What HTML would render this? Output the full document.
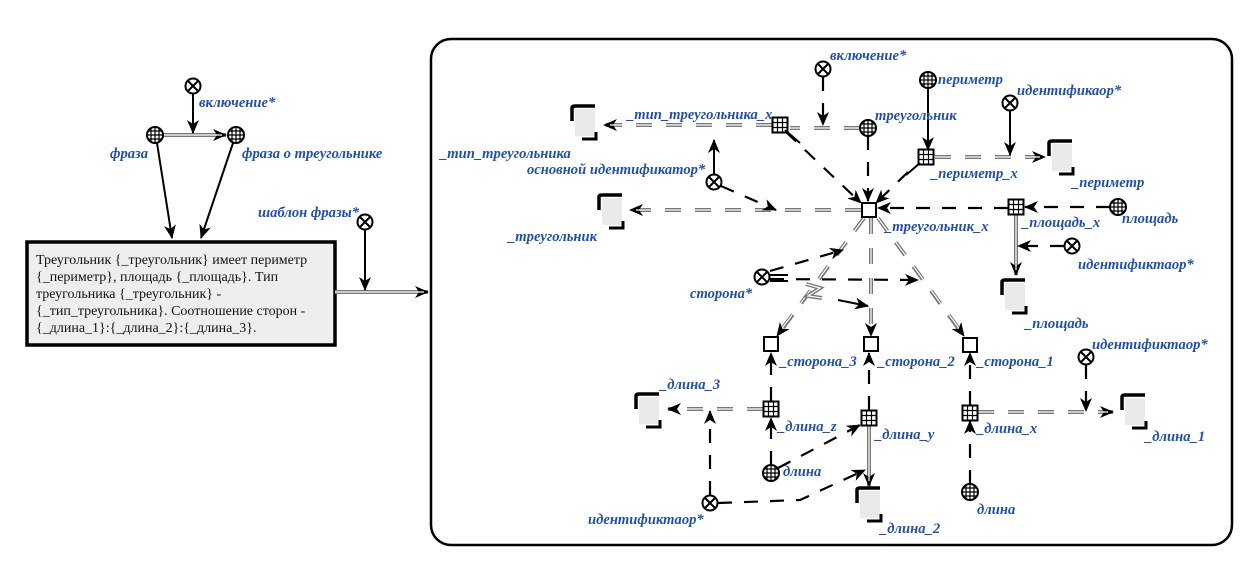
<!DOCTYPE html>
<html><head><meta charset="utf-8"><style>
html,body{margin:0;padding:0;background:#fff;width:1243px;height:567px;overflow:hidden}
svg{display:block}
.lb{font-family:"Liberation Serif",serif;font-style:italic;font-weight:bold;font-size:14.6px;fill:#1f4fb0}
.d{fill:none;stroke:#000;stroke-width:2.2;stroke-dasharray:14 12}
.s{fill:none;stroke:#000;stroke-width:2}
.g1{fill:none;stroke:#777;stroke-width:4;stroke-dasharray:16 14}
.g2{fill:none;stroke:#fff;stroke-width:1.2;stroke-dasharray:16 14}
.G1{fill:none;stroke:#777;stroke-width:4}
.G2{fill:none;stroke:#fff;stroke-width:1.2}
</style></head><body>
<svg width="1243" height="567" viewBox="0 0 1243 567" xmlns="http://www.w3.org/2000/svg">
<defs>
<marker id="a" markerWidth="14" markerHeight="12" refX="13" refY="6" orient="auto" markerUnits="userSpaceOnUse"><path d="M0,0 L14,6 L0,12 L4,6 z" fill="#000"/></marker>
<g id="x"><circle r="7.5" fill="#fff" stroke="#000" stroke-width="2"/><path d="M-5,-5 L5,5 M5,-5 L-5,5" stroke="#000" stroke-width="2"/></g>
<g id="c"><circle r="8" fill="#fff" stroke="#000" stroke-width="2"/><path d="M-8,0 H8 M0,-8 V8 M-7,-4 H7 M-7,4 H7 M-4,-7 V7 M4,-7 V7" stroke="#000" stroke-width="1.2"/></g>
<g id="q"><rect x="-7.5" y="-7.5" width="15" height="15" fill="#fff" stroke="#000" stroke-width="2"/><path d="M-7,-2.5 H7 M-7,2.5 H7 M-2.5,-7 V7 M2.5,-7 V7" stroke="#000" stroke-width="1.2"/></g>
<g id="e"><rect x="-7" y="-7" width="14" height="14" fill="#fff" stroke="#000" stroke-width="2"/></g>
<g id="l"><rect x="5" y="5" width="20" height="27" fill="#eaeaea"/><path d="M2,17 L2,4 Q2,2 5,2 L25,2" fill="none" stroke="#000" stroke-width="3.5"/><path d="M12,35 L26,35 L26,28" fill="none" stroke="#000" stroke-width="3"/></g>
</defs>

<rect x="27" y="242" width="308" height="103" fill="#eeeeee" stroke="#000" stroke-width="3.5"/>
<text font-family="Liberation Serif,serif" font-size="14" fill="#111">
<tspan x="36" y="264">Треугольник {_треугольник} имеет периметр</tspan>
<tspan x="36" y="281">{_периметр}, площадь {_площадь}. Тип</tspan>
<tspan x="36" y="298">треугольника {_треугольник} -</tspan>
<tspan x="36" y="315">{_тип_треугольника}. Соотношение сторон -</tspan>
<tspan x="36" y="332">{_длина_1}:{_длина_2}:{_длина_3}.</tspan>
</text>
<path d="M163,135 H226" class="G1" marker-end="url(#a)"/><path d="M163,135 H222" class="G2"/>
<path d="M193,94 V133" class="s" marker-end="url(#a)"/>
<path d="M157,143 L172,238" class="s" marker-end="url(#a)"/>
<path d="M233,143 L201,238" class="s" marker-end="url(#a)"/>
<path d="M335,292 H428" class="G1" marker-end="url(#a)"/><path d="M335,292 H424" class="G2"/>
<path d="M365,230 V290" class="s" marker-end="url(#a)"/>
<use href="#x" x="193" y="86"/><use href="#c" x="155" y="135"/><use href="#c" x="236" y="135"/><use href="#x" x="365" y="222"/>
<text class="lb" x="199" y="107">включение*</text>
<text class="lb" x="110" y="158">фраза</text>
<text class="lb" x="242" y="158">фраза о треугольнике</text>
<text class="lb" x="258" y="217">шаблон фразы*</text>

<rect x="431" y="39" width="801" height="506" rx="20" fill="none" stroke="#000" stroke-width="2.5"/>

<g>
<path d="M860,128 H790" class="g1"/><path d="M860,128 H790" class="g2"/>
<path d="M772,125 H604" class="g1" marker-end="url(#a)"/><path d="M772,125 H610" class="g2"/>
<path d="M861,210 H630" class="g1" marker-end="url(#a)"/><path d="M861,210 H636" class="g2"/>
<path d="M935,157 H1045" class="g1" marker-end="url(#a)"/><path d="M935,157 H1040" class="g2"/>
<path d="M1016,215 V275" class="G1" marker-end="url(#a)"/><path d="M1016,215 V270" class="G2"/>
<path d="M864,218 L777,336" class="g1" marker-end="url(#a)"/><path d="M864,218 L780,331" class="g2"/>
<path d="M871,218 V336" class="g1" marker-end="url(#a)"/><path d="M871,218 V331" class="g2"/>
<path d="M878,218 L964,336" class="g1" marker-end="url(#a)"/><path d="M878,218 L961,331" class="g2"/>
<path d="M763,409 H668" class="g1" marker-end="url(#a)"/><path d="M763,409 H673" class="g2"/>
<path d="M869,426 V486" class="G1" marker-end="url(#a)"/><path d="M869,426 V481" class="G2"/>
<path d="M978,412 H1113" class="g1" marker-end="url(#a)"/><path d="M978,412 H1108" class="g2"/>
<path d="M770,275 L788,275 M770,281 L788,281" class="s" stroke-width="1.5"/>
<path d="M806,284 L820,288 L808,296 L822,298" class="G1"/><path d="M806,284 L820,288 L808,296 L822,298" class="G2"/>
</g>

<path d="M823,77 V125" class="d" marker-end="url(#a)"/>
<path d="M786,132 L861,203" class="d" marker-end="url(#a)"/>
<path d="M868,136 V201" class="d" marker-end="url(#a)"/>
<path d="M714,174 V140" class="s" marker-end="url(#a)"/>
<path d="M721,186 L776,210" class="d" marker-end="url(#a)"/>
<path d="M928,88 V150" class="s" marker-end="url(#a)"/>
<path d="M1010,110 V155" class="s" marker-end="url(#a)"/>
<path d="M908,172 L876,203" class="d" marker-end="url(#a)"/>
<path d="M1110,207 H1025" class="d" marker-end="url(#a)"/>
<path d="M1008,208 H878" class="d" marker-end="url(#a)"/>
<path d="M1064,246 H1018" class="d" marker-end="url(#a)"/>
<path d="M770,271 L843,250" class="d" marker-end="url(#a)"/>
<path d="M770,279 L918,280" class="d" marker-end="url(#a)"/>
<path d="M838,300 L868,306" class="s" marker-end="url(#a)"/>
<path d="M771,401 V353" class="d" marker-end="url(#a)"/>
<path d="M771,465 V418" class="d" marker-end="url(#a)"/>
<path d="M869,410 V353" class="d" marker-end="url(#a)"/>
<path d="M778,468 L860,425" class="d" marker-end="url(#a)"/>
<path d="M970,405 V353" class="d" marker-end="url(#a)"/>
<path d="M970,484 V421" class="d" marker-end="url(#a)"/>
<path d="M710,495 V411" class="d" marker-end="url(#a)"/>
<path d="M718,503 L800,500 L865,470" class="d" marker-end="url(#a)"/>
<path d="M1086,365 V411" class="d" marker-end="url(#a)"/>

<use href="#x" x="823" y="69"/>
<use href="#q" x="780" y="125"/><path d="M785,130 L800,143" class="s"/>
<use href="#c" x="868" y="128"/>
<use href="#l" x="570" y="104"/>
<use href="#x" x="714" y="182"/>
<use href="#l" x="597" y="193"/>
<use href="#e" x="869" y="210"/>
<use href="#c" x="928" y="80"/>
<use href="#q" x="926" y="157"/><path d="M920,163 L906,175" class="s"/>
<use href="#l" x="1047" y="139"/>
<use href="#x" x="1010" y="103"/>
<use href="#q" x="1016" y="207"/>
<use href="#c" x="1118" y="207"/>
<use href="#x" x="1072" y="246"/>
<use href="#l" x="1000" y="278"/>
<use href="#x" x="762" y="277"/>
<use href="#e" x="771" y="344"/>
<use href="#e" x="871" y="344"/>
<use href="#e" x="970" y="345"/>
<use href="#q" x="771" y="409"/>
<use href="#q" x="869" y="418"/>
<use href="#q" x="970" y="413"/>
<use href="#c" x="771" y="473"/>
<use href="#c" x="970" y="492"/>
<use href="#l" x="634" y="392"/>
<use href="#x" x="710" y="503"/>
<use href="#l" x="855" y="486"/>
<use href="#x" x="1086" y="357"/>
<use href="#l" x="1120" y="393"/>

<text class="lb" x="830" y="60">включение*</text>
<text class="lb" x="627" y="119">_тип_треугольника_x</text>
<text class="lb" x="875" y="120">треугольник</text>
<text class="lb" x="440" y="158">_тип_треугольника</text>
<text class="lb" x="527" y="174">основной идентификатор*</text>
<text class="lb" x="508" y="241">_треугольник</text>
<text class="lb" x="885" y="231">_треугольник_x</text>
<text class="lb" x="938" y="84">периметр</text>
<text class="lb" x="1017" y="95">идентификаор*</text>
<text class="lb" x="931" y="178">_периметр_x</text>
<text class="lb" x="1072" y="187">_периметр</text>
<text class="lb" x="1022" y="227">_площадь_x</text>
<text class="lb" x="1122" y="223">площадь</text>
<text class="lb" x="1078" y="269">идентификтаор*</text>
<text class="lb" x="1025" y="328">_площадь</text>
<text class="lb" x="690" y="298">сторона*</text>
<text class="lb" x="780" y="366">_сторона_3</text>
<text class="lb" x="878" y="366">_сторона_2</text>
<text class="lb" x="977" y="366">_сторона_1</text>
<text class="lb" x="778" y="431">_длина_z</text>
<text class="lb" x="875" y="439">_длина_y</text>
<text class="lb" x="977" y="433">_длина_x</text>
<text class="lb" x="783" y="476">длина</text>
<text class="lb" x="977" y="514">длина</text>
<text class="lb" x="660" y="389">_длина_3</text>
<text class="lb" x="588" y="524">идентификтаор*</text>
<text class="lb" x="880" y="533">_длина_2</text>
<text class="lb" x="1092" y="349">идентификтаор*</text>
<text class="lb" x="1145" y="441">_длина_1</text>
</svg>
</body></html>
